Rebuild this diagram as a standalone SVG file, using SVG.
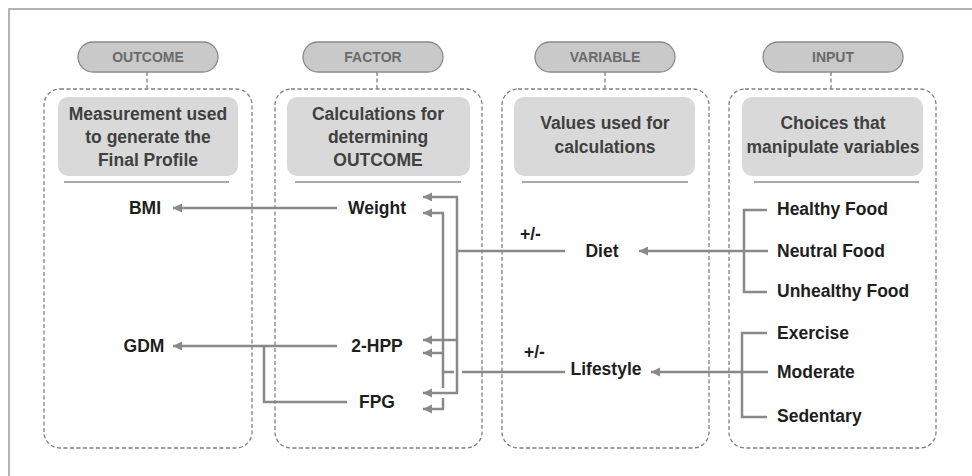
<svg xmlns="http://www.w3.org/2000/svg" width="972" height="476" viewBox="0 0 972 476">
<defs>
<style>
.frame{fill:none;stroke:#9a9a9a;stroke-width:1.5}
.pill{fill:#c9c9c9;stroke:#8a8a8a;stroke-width:1.3}
.pilltxt{font-family:"Liberation Sans",Arial,sans-serif;font-weight:bold;font-size:14px;fill:#6b6b6b;text-anchor:middle}
.dbox{fill:none;stroke:#808080;stroke-width:1.3;stroke-dasharray:4 2.5}
.dash{fill:none;stroke:#808080;stroke-width:1.3;stroke-dasharray:4 2.5}
.hbox{fill:#d9d9d9;stroke:none}
.htxt{font-family:"Liberation Sans",Arial,sans-serif;font-weight:bold;font-size:17.5px;fill:#404040;text-anchor:middle}
.sep{stroke:#8a8a8a;stroke-width:1.5}
.lbl{font-family:"Liberation Sans",Arial,sans-serif;font-weight:bold;font-size:17.5px;fill:#1e1e1e}
.mid{text-anchor:middle}
.c{fill:none;stroke:#898989;stroke-width:2.5}
.ca{fill:none;stroke:#898989;stroke-width:2.5;marker-end:url(#ah)}
</style>
<marker id="ah" markerUnits="userSpaceOnUse" markerWidth="10" markerHeight="10" refX="9" refY="4.5" orient="auto">
<path d="M0,0 L9,4.5 L0,9 z" fill="#898989"/>
</marker>
</defs>
<rect width="972" height="476" fill="#ffffff"/>
<rect class="frame" x="9" y="9" width="1000" height="1000"/>

<g id="outcome">
<rect class="pill" x="78" y="42" width="140" height="30" rx="15"/>
<text class="pilltxt" x="148" y="62">OUTCOME</text>
<line class="dash" x1="147" y1="72" x2="147" y2="89"/>
<rect class="dbox" x="44" y="89" width="208" height="359" rx="16"/>
<rect class="hbox" x="58" y="97" width="180" height="79" rx="10"/>
<text class="htxt" x="148" y="120">Measurement used</text>
<text class="htxt" x="148" y="143">to generate the</text>
<text class="htxt" x="148" y="166">Final Profile</text>
<line class="sep" x1="64" y1="182" x2="229" y2="182"/>
</g>

<g id="factor">
<rect class="pill" x="303" y="42" width="140" height="30" rx="15"/>
<text class="pilltxt" x="373" y="62">FACTOR</text>
<line class="dash" x1="377" y1="72" x2="377" y2="89"/>
<rect class="dbox" x="275" y="89" width="207" height="359" rx="16"/>
<rect class="hbox" x="287" y="97" width="183" height="79" rx="10"/>
<text class="htxt" x="378" y="120">Calculations for</text>
<text class="htxt" x="378" y="143">determining</text>
<text class="htxt" x="378" y="166">OUTCOME</text>
<line class="sep" x1="295" y1="182" x2="461" y2="182"/>
</g>

<g id="variable">
<rect class="pill" x="535" y="42" width="140" height="30" rx="15"/>
<text class="pilltxt" x="605" y="62">VARIABLE</text>
<line class="dash" x1="605" y1="72" x2="605" y2="89"/>
<rect class="dbox" x="502" y="89" width="207" height="359" rx="16"/>
<rect class="hbox" x="514" y="97" width="181" height="79" rx="10"/>
<text class="htxt" x="605" y="129">Values used for</text>
<text class="htxt" x="605" y="153">calculations</text>
<line class="sep" x1="522" y1="182" x2="688" y2="182"/>
</g>

<g id="input">
<rect class="pill" x="763" y="42" width="140" height="30" rx="15"/>
<text class="pilltxt" x="833" y="62">INPUT</text>
<line class="dash" x1="831" y1="72" x2="831" y2="89"/>
<rect class="dbox" x="729" y="89" width="207" height="359" rx="16"/>
<rect class="hbox" x="742" y="97" width="181" height="79" rx="10"/>
<text class="htxt" x="833" y="129">Choices that</text>
<text class="htxt" x="833" y="153">manipulate variables</text>
<line class="sep" x1="754" y1="182" x2="919" y2="182"/>
</g>

<g id="connectors">
<line class="ca" x1="337" y1="208" x2="173" y2="208"/>
<line class="ca" x1="337" y1="346" x2="173" y2="346"/>
<path class="c" d="M347,402 H264 V346"/>
<path class="c" d="M565,251 H457 M457,197 V393"/>
<line class="ca" x1="458" y1="197" x2="423" y2="197"/>
<line class="ca" x1="458" y1="340" x2="423" y2="340"/>
<line class="ca" x1="458" y1="393" x2="423" y2="393"/>
<path class="c" d="M565,372 H462 M454,372 H443 M443,213 V388 M443,398 V409"/>
<line class="ca" x1="444" y1="213" x2="423" y2="213"/>
<line class="ca" x1="444" y1="353" x2="423" y2="353"/>
<line class="ca" x1="444" y1="409" x2="423" y2="409"/>
<path class="c" d="M767,210 H744 V292 H767"/>
<line class="ca" x1="768" y1="251" x2="639" y2="251"/>
<path class="c" d="M767,333 H742 V417 H767"/>
<line class="ca" x1="768" y1="372" x2="651" y2="372"/>
</g>

<g id="n-bmi"><text class="lbl mid" x="145" y="214">BMI</text></g>
<g id="n-gdm"><text class="lbl mid" x="144" y="352">GDM</text></g>
<g id="n-weight"><text class="lbl mid" x="377" y="214">Weight</text></g>
<g id="n-2hpp"><text class="lbl mid" x="377" y="352">2-HPP</text></g>
<g id="n-fpg"><text class="lbl mid" x="377" y="408">FPG</text></g>
<g id="n-diet"><text class="lbl mid" x="602" y="257">Diet</text><text class="lbl" x="520" y="240">+/-</text></g>
<g id="n-lifestyle"><text class="lbl mid" x="606" y="375">Lifestyle</text><text class="lbl" x="524" y="358">+/-</text></g>
<g id="n-healthy"><text class="lbl" x="777" y="215">Healthy Food</text></g>
<g id="n-neutral"><text class="lbl" x="777" y="257">Neutral Food</text></g>
<g id="n-unhealthy"><text class="lbl" x="777" y="297">Unhealthy Food</text></g>
<g id="n-exercise"><text class="lbl" x="777" y="339">Exercise</text></g>
<g id="n-moderate"><text class="lbl" x="777" y="378">Moderate</text></g>
<g id="n-sedentary"><text class="lbl" x="777" y="422">Sedentary</text></g>
</svg>
